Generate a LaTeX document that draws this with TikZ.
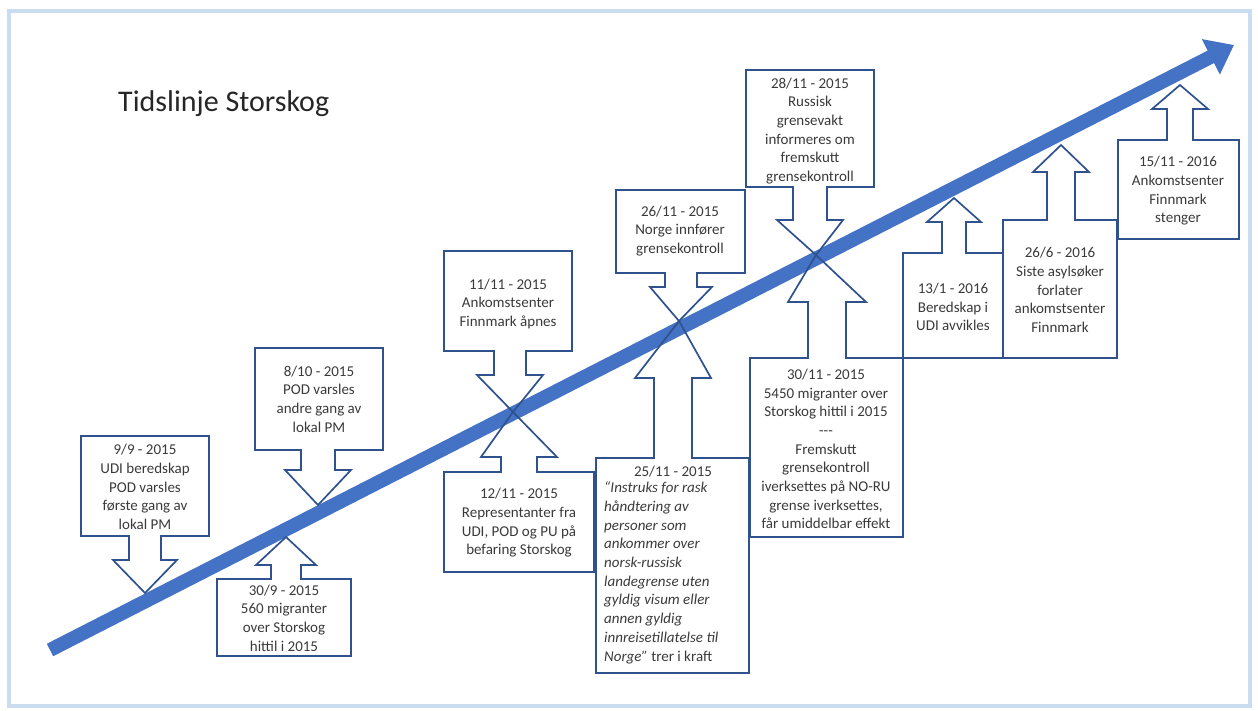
\documentclass[tikz,border=0pt]{standalone}
\usepackage{fontspec}
\setmainfont{Carlito}
\usetikzlibrary{arrows.meta}

\definecolor{boxline}{HTML}{2F528F}
\definecolor{lineblue}{HTML}{4472C4}
\definecolor{txtgray}{HTML}{3A3A3A}
\definecolor{framebl}{HTML}{C9DCF0}

% box x1, x2, far edge y, arrow edge y, stem centre, stem half, head half, head base y, tip
\newcommand{\callout}[9]{%
  \draw[callbox] (#1,#3) -- (#2,#3) -- (#2,#4) -- (#5+#6,#4) -- (#5+#6,#8) -- (#5+#7,#8) -- (#9)
    -- (#5-#7,#8) -- (#5-#6,#8) -- (#5-#6,#4) -- (#1,#4) -- cycle;}

\begin{document}
\begin{tikzpicture}[x=1pt, y=-1pt,
    callbox/.style={draw=boxline, line width=1.7pt},
    txt/.style={align=center, inner sep=0pt, text=txtgray, font=\fontsize{15}{18.7}\selectfont},
    mainarrow/.style={draw=lineblue, line width=14pt, -{Triangle[length=26pt,width=38pt]}}]

\useasboundingbox (0,0) rectangle (1258,711);
\draw[draw=framebl, line width=4pt] (9,11) rectangle (1250,706);

\node[anchor=west, inner sep=0pt, text=black!85, font=\fontsize{30}{36}\selectfont] (title) at (118,104) {Tidslinje Storskog};

\coordinate (tail) at (50,650);
\coordinate (head) at (1234,45);
\draw[mainarrow] (tail) -- (head);

\callout{81}{209}{436}{536}{145}{16}{32}{560}{145,593}
\callout{255}{383}{348}{450}{318}{17}{33}{470}{318,505}
\callout{217}{351}{656}{579}{286}{15}{30}{565}{286,537}
\callout{444}{572}{251}{351}{510}{16}{33}{375}{513,412}
\callout{444}{594}{572}{472}{519}{18}{38}{457}{513,412}
\callout{616}{745}{190}{273}{681}{16}{31}{287}{679,321}
\callout{596}{749}{673}{458}{673}{19}{38}{378}{679,321}
\callout{746}{874}{70}{187}{810}{17}{33}{220}{816,255}
\callout{750}{903}{537}{358}{827}{19}{39}{302}{816,255}
\callout{903}{1003}{358}{253}{954}{12}{27}{222}{954,198}
\callout{1003}{1117}{358}{220}{1061}{14}{28}{172}{1061,145}
\callout{1118}{1239}{239}{140}{1180}{13}{28}{109}{1180,85}

\node[txt] (t99) at (145,487) {9/9 - 2015\\UDI beredskap\\POD varsles\\første gang av\\lokal PM};
\node[txt] (t810) at (319,399) {8/10 - 2015\\POD varsles\\andre gang av\\lokal PM};
\node[txt] (t309) at (284,618) {30/9 - 2015\\560 migranter\\over Storskog\\hittil i 2015};
\node[txt] (t1111) at (508,304) {11/11 - 2015\\Ankomstsenter\\Finnmark åpnes};
\node[txt] (t1211) at (519,523) {12/11 - 2015\\Representanter fra\\UDI, POD og PU på\\befaring Storskog};
\node[txt] (t2611) at (680,231) {26/11 - 2015\\Norge innfører\\grensekontroll};
\node[txt] (d2511) at (673,472) {25/11 - 2015};
\node[txt, align=left, anchor=north west, font=\fontsize{15}{18.7}\selectfont\itshape] (t2511) at ([yshift=-4pt]d2511.south -| 604,0) {“Instruks for rask\\håndtering av\\personer som\\ankommer over\\norsk-russisk\\landegrense uten\\gyldig visum eller\\annen gyldig\\innreisetillatelse til\\Norge” {\upshape trer i kraft}};
\node[txt] (t2811) at (810,131) {28/11 - 2015\\Russisk\\grensevakt\\informeres om\\fremskutt\\grensekontroll};
\node[txt] (t3011) at (826,449) {30/11 - 2015\\5450 migranter over\\Storskog hittil i 2015\\-{}-{}-\\Fremskutt\\grensekontroll\\iverksettes på NO-RU\\grense iverksettes,\\får umiddelbar effekt};
\node[txt] (t131) at (953,307) {13/1 - 2016\\Beredskap i\\UDI avvikles};
\node[txt] (t266) at (1060,290) {26/6 - 2016\\Siste asylsøker\\forlater\\ankomstsenter\\Finnmark};
\node[txt] (t1511) at (1178,191) {15/11 - 2016\\Ankomstsenter\\Finnmark\\stenger};

\end{tikzpicture}
\end{document}
